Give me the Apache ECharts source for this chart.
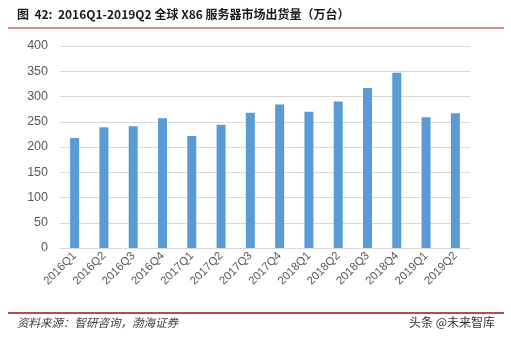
<!DOCTYPE html>
<html><head><meta charset="utf-8">
<script src="https://cdn.jsdelivr.net/npm/echarts@6/dist/echarts.min.js"></script>
<style>html,body{margin:0;padding:0;background:#fff}#c{width:511px;height:344px}</style>
</head><body><div id="c"></div>
<script>
const categories = ['2016Q1','2016Q2','2016Q3','2016Q4','2017Q1','2017Q2','2017Q3','2017Q4','2018Q1','2018Q2','2018Q3','2018Q4','2019Q1','2019Q2'];
const shipments = [218, 239, 241, 257, 222, 244, 268, 284, 270, 290, 317, 347, 259, 267];
const titleText = '图  42:  2016Q1-2019Q2 全球 X86 服务器市场出货量（万台）';
const sourceText = '资料来源：智研咨询，渤海证券';
const watermark = '头条 @未来智库';

const chart = echarts.init(document.getElementById('c'), null, {renderer: 'canvas'});
chart.setOption({
  animation: false,
  backgroundColor: '#fff',
  grid: {left: 60, right: 41, top: 46, bottom: 96, containLabel: false},
  xAxis: {
    type: 'category', data: categories,
    axisLine: {lineStyle: {color: '#d9d9d9'}},
    axisTick: {show: false},
    axisLabel: {rotate: 45, color: '#595959', fontSize: 11.5, fontFamily: 'Liberation Sans', margin: 6, interval: 0}
  },
  yAxis: {
    type: 'value', min: 0, max: 400, interval: 50,
    axisLine: {show: false}, axisTick: {show: false},
    splitLine: {lineStyle: {color: '#d9d9d9'}},
    axisLabel: {color: '#595959', fontSize: 12.5, fontFamily: 'Liberation Sans', margin: 12}
  },
  series: [{
    type: 'bar', data: shipments, barWidth: 9,
    itemStyle: {color: '#5b9bd5'}
  }],
  graphic: [
    {type: 'text', left: 17, top: 8, style: {text: titleText, fill: '#1a1a1a', font: 'bold 12px "Noto Sans CJK SC", sans-serif'}},
    {type: 'line', shape: {x1: 8, y1: 28, x2: 504, y2: 28}, style: {stroke: '#c0706c', lineWidth: 1.5}},
    {type: 'line', shape: {x1: 8, y1: 313, x2: 504, y2: 313}, style: {stroke: '#a01010', lineWidth: 1.5}},
    {type: 'text', left: 17, top: 317, style: {text: sourceText, fill: '#404040', font: 'italic 11.5px "Noto Sans CJK SC", sans-serif'}},
    {type: 'text', left: 409, top: 316, style: {text: watermark, fill: '#333', font: '12px "Noto Sans CJK SC", sans-serif'}}
  ]
});
</script></body></html>
